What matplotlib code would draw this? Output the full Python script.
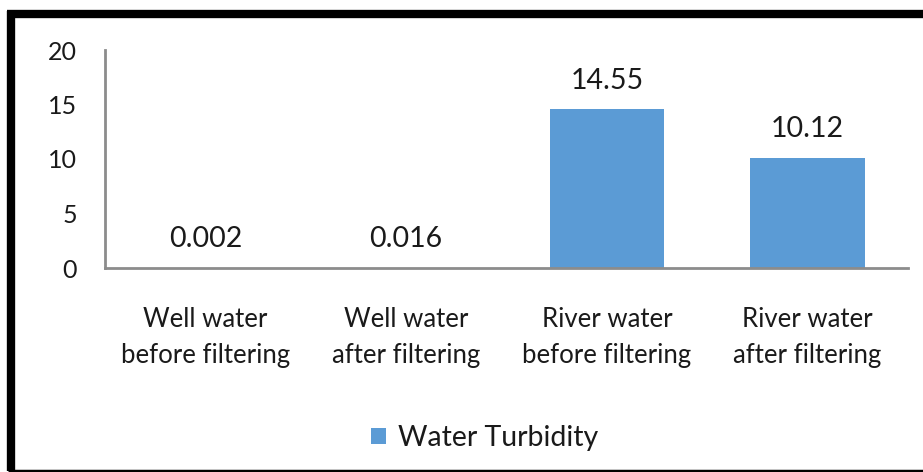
import matplotlib.pyplot as plt
from matplotlib.lines import Line2D

categories = ["Well water\nbefore filtering", "Well water\nafter filtering",
              "River water\nbefore filtering", "River water\nafter filtering"]
turbidity = [0.002, 0.016, 14.55, 10.12]
value_labels = ["0.002", "0.016", "14.55", "10.12"]
yticks = [0, 5, 10, 15, 20]

plt.rcParams['font.family'] = ['Lato', 'DejaVu Sans']
BAR_COLOR = "#5b9bd5"
TEXT_COLOR = "#1a1a1a"
FS = 18

fig = plt.figure(figsize=(9.23, 4.72), dpi=100)
W, H = 923, 472
ax = fig.add_axes([105 / W, 1 - 268 / H, (908 - 105) / W, (268 - 50) / H])

x = list(range(len(categories)))
ax.bar(x, turbidity, width=0.57, color=BAR_COLOR, label="Water Turbidity")
for xi, v, lab in zip(x, turbidity, value_labels):
    ax.text(xi, v + 1.45, lab, ha="center", va="bottom", fontsize=20.5, color=TEXT_COLOR)

ax.set_xlim(-0.5, len(categories) - 0.5)
ax.set_ylim(0, 20)
ax.set_yticks(yticks)
ax.set_xticks(x)
ax.set_xticklabels(categories, fontsize=18.5, color=TEXT_COLOR, linespacing=1.55)
ax.tick_params(axis="y", length=0, pad=20, labelsize=FS, labelcolor=TEXT_COLOR)
ax.tick_params(axis="x", length=0, pad=28)
for s in ["top", "right"]:
    ax.spines[s].set_visible(False)
for s in ["left", "bottom"]:
    ax.spines[s].set_color("#8c8c8c")
    ax.spines[s].set_linewidth(2)

fig.legend(loc="center", bbox_to_anchor=(485 / W, 1 - 438 / H), frameon=False,
           fontsize=20.5, handlelength=0.5, handleheight=0.5, handletextpad=0.45,
           labelcolor=TEXT_COLOR)

# thick black frame (top, left, bottom) like the source image
fig.add_artist(Line2D([7 / W, 1], [1 - 14 / H, 1 - 14 / H], color="black", lw=6,
                      transform=fig.transFigure, solid_capstyle="butt"))
fig.add_artist(Line2D([11 / W, 11 / W], [1 - 11 / H, 1 - 471 / H], color="black", lw=6,
                      transform=fig.transFigure, solid_capstyle="butt"))
fig.add_artist(Line2D([8 / W, 1], [1 - 470.5 / H, 1 - 470.5 / H], color="black", lw=2.5,
                      transform=fig.transFigure, solid_capstyle="butt"))

fig.savefig("out.png", dpi=100)
